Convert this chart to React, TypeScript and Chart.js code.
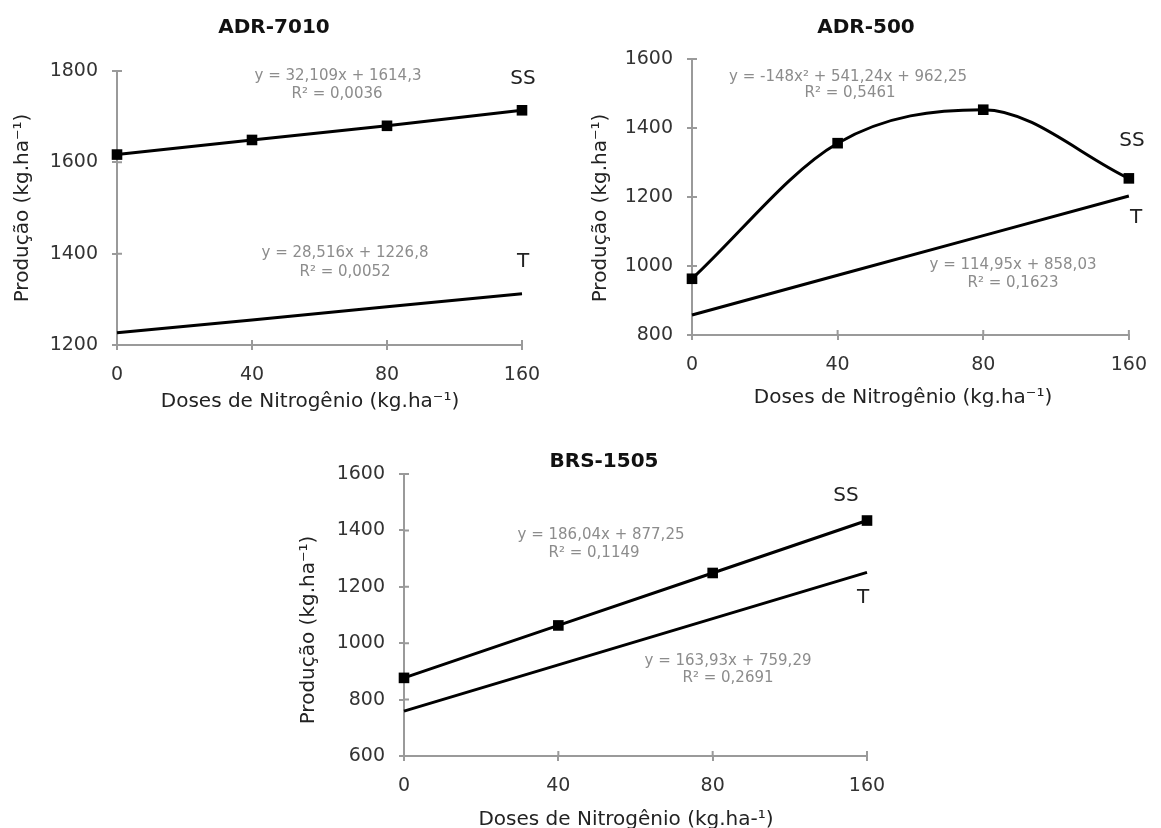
import React, { useEffect, useRef } from 'react';
import { Chart, registerables } from 'chart.js';

Chart.register(...registerables);

// ---------- data ----------
const doseLabels = ['0', '40', '80', '160'];

const adr7010Ticks = [1200, 1400, 1600, 1800];
const adr7010SS = [1617, 1649, 1680, 1714];
const adr7010T = [1227, 1255, 1284, 1312];

const adr500Ticks = [800, 1000, 1200, 1400, 1600];
const adr500SS = [963, 1356, 1453, 1254];
const adr500T = [858, 973, 1088, 1203];

const brs1505Ticks = [600, 800, 1000, 1200, 1400, 1600];
const brs1505SS = [877, 1063, 1249, 1435];
const brs1505T = [759, 923, 1087, 1251];

// ---------- styling ----------
const FAMILY = "'DejaVu Sans', sans-serif";
const AXIS_COLOR = '#9a9a9a';
const EQ_COLOR = '#8c8c8c';

type Box = { left: number; top: number; width: number; height: number };
type Area = { L: number; T: number; R: number; B: number };
type Txt = { text: string; x: number; y: number; size: number; color: string; bold?: boolean; rotate?: boolean };

type PanelProps = {
  box: Box;
  area: Area;
  yTicks: number[];
  ss: number[];
  t: number[];
  smooth: boolean;
  texts: Txt[];
};

function Panel({ box, area, yTicks, ss, t, smooth, texts }: PanelProps) {
  const ref = useRef<HTMLCanvasElement | null>(null);

  useEffect(() => {
    if (!ref.current) return;
    const overlay = {
      id: 'overlay',
      beforeDatasetsDraw(chart: any) {
        const ctx = chart.ctx;
        const xs = chart.scales.x;
        const ys = chart.scales.y;
        ctx.save();
        ctx.strokeStyle = AXIS_COLOR;
        ctx.lineWidth = 2;
        ctx.beginPath();
        xs.ticks.forEach((_: any, i: number) => {
          const px = xs.getPixelForTick(i);
          ctx.moveTo(px, ys.bottom);
          ctx.lineTo(px, ys.bottom - 5);
        });
        ys.ticks.forEach((_: any, i: number) => {
          const py = ys.getPixelForTick(i);
          ctx.moveTo(xs.left, py);
          ctx.lineTo(xs.left + 5, py);
        });
        ctx.stroke();
        ctx.restore();
      },
      afterDraw(chart: any) {
        const ctx = chart.ctx;
        ctx.save();
        texts.forEach((tx) => {
          ctx.font = `${tx.bold ? 'bold ' : ''}${tx.size}px ${FAMILY}`;
          ctx.fillStyle = tx.color;
          ctx.textAlign = 'center';
          ctx.textBaseline = 'middle';
          const x = tx.x - box.left;
          const y = tx.y - box.top;
          if (tx.rotate) {
            ctx.save();
            ctx.translate(x, y);
            ctx.rotate(-Math.PI / 2);
            ctx.fillText(tx.text, 0, 0);
            ctx.restore();
          } else {
            ctx.fillText(tx.text, x, y);
          }
        });
        ctx.restore();
      },
    };

    const chart = new Chart(ref.current, {
      type: 'line',
      data: {
        labels: doseLabels,
        datasets: [
          {
            label: 'SS',
            data: ss,
            borderColor: '#000',
            backgroundColor: '#000',
            borderWidth: 3,
            pointStyle: 'rect',
            pointRadius: 7.5,
            pointBackgroundColor: '#000',
            pointBorderColor: '#000',
            pointBorderWidth: 0,
            tension: smooth ? 0.4 : 0,
            cubicInterpolationMode: smooth ? 'monotone' : 'default',
            fill: false,
            clip: false as any,
          },
          {
            label: 'T',
            data: t,
            borderColor: '#000',
            backgroundColor: '#000',
            borderWidth: 3,
            pointRadius: 0,
            tension: 0,
            fill: false,
            clip: false as any,
          },
        ],
      },
      options: {
        responsive: false,
        animation: false,
        events: [],
        layout: {
          padding: {
            left: 0,
            top: area.T - box.top,
            right: box.left + box.width - area.R,
            bottom: 0,
          },
        },
        plugins: {
          legend: { display: false },
          tooltip: { enabled: false },
          title: { display: false },
        },
        scales: {
          x: {
            type: 'category',
            offset: false,
            afterFit: (s: any) => {
              s.height = box.top + box.height - area.B;
            },
            grid: { drawOnChartArea: false, drawTicks: true, tickLength: 5, color: AXIS_COLOR, lineWidth: 2 },
            border: { display: true, color: AXIS_COLOR, width: 2 },
            ticks: {
              color: '#333',
              font: { family: FAMILY, size: 19 },
              padding: 14,
              maxRotation: 0,
              autoSkip: false,
            },
          },
          y: {
            type: 'linear',
            min: yTicks[0],
            max: yTicks[yTicks.length - 1],
            afterFit: (s: any) => {
              s.width = area.L - box.left;
            },
            grid: { drawOnChartArea: false, drawTicks: true, tickLength: 5, color: AXIS_COLOR, lineWidth: 2 },
            border: { display: true, color: AXIS_COLOR, width: 2 },
            ticks: {
              stepSize: yTicks[1] - yTicks[0],
              color: '#333',
              font: { family: FAMILY, size: 19 },
              padding: 14,
              callback: (v: any) => String(v),
            },
          },
        },
      },
      plugins: [overlay],
    } as any);

    return () => chart.destroy();
  }, []);

  return (
    <canvas
      ref={ref}
      width={box.width}
      height={box.height}
      style={{ position: 'absolute', left: box.left, top: box.top, width: box.width, height: box.height }}
    />
  );
}

const TITLE = '#111';
const AXT = '#222';
const LBL = '#222';

export default function App() {
  const yTitle = 'Produção (kg.ha⁻¹)';
  return (
    <div style={{ position: 'absolute', left: 0, top: 0, width: 1161, height: 828, background: '#fff', overflow: 'hidden' }}>
      <Panel
        box={{ left: 0, top: 0, width: 575, height: 415 }}
        area={{ L: 117, T: 71, R: 522, B: 345 }}
        yTicks={adr7010Ticks}
        ss={adr7010SS}
        t={adr7010T}
        smooth={false}
        texts={[
          { text: 'ADR-7010', x: 274, y: 28, size: 20, color: TITLE, bold: true },
          { text: yTitle, x: 23, y: 208, size: 20, color: AXT, rotate: true },
          { text: 'Doses de Nitrogênio (kg.ha⁻¹)', x: 310, y: 402, size: 20, color: AXT },
          { text: 'y = 32,109x + 1614,3', x: 338, y: 76, size: 15, color: EQ_COLOR },
          { text: 'R² = 0,0036', x: 337, y: 94, size: 15, color: EQ_COLOR },
          { text: 'SS', x: 523, y: 79, size: 20, color: LBL },
          { text: 'y = 28,516x + 1226,8', x: 345, y: 253, size: 15, color: EQ_COLOR },
          { text: 'R² = 0,0052', x: 345, y: 272, size: 15, color: EQ_COLOR },
          { text: 'T', x: 523, y: 262, size: 20, color: LBL },
        ]}
      />
      <Panel
        box={{ left: 575, top: 0, width: 586, height: 415 }}
        area={{ L: 692, T: 59, R: 1138, B: 335 }}
        yTicks={adr500Ticks}
        ss={adr500SS}
        t={adr500T}
        smooth={true}
        texts={[
          { text: 'ADR-500', x: 866, y: 28, size: 20, color: TITLE, bold: true },
          { text: yTitle, x: 601, y: 208, size: 20, color: AXT, rotate: true },
          { text: 'Doses de Nitrogênio (kg.ha⁻¹)', x: 903, y: 398, size: 20, color: AXT },
          { text: 'y = -148x² + 541,24x + 962,25', x: 848, y: 77, size: 15, color: EQ_COLOR },
          { text: 'R² = 0,5461', x: 850, y: 93, size: 15, color: EQ_COLOR },
          { text: 'SS', x: 1132, y: 141, size: 20, color: LBL },
          { text: 'y = 114,95x + 858,03', x: 1013, y: 265, size: 15, color: EQ_COLOR },
          { text: 'R² = 0,1623', x: 1013, y: 283, size: 15, color: EQ_COLOR },
          { text: 'T', x: 1136, y: 218, size: 20, color: LBL },
        ]}
      />
      <Panel
        box={{ left: 280, top: 430, width: 620, height: 398 }}
        area={{ L: 404, T: 474, R: 867, B: 756 }}
        yTicks={brs1505Ticks}
        ss={brs1505SS}
        t={brs1505T}
        smooth={false}
        texts={[
          { text: 'BRS-1505', x: 604, y: 462, size: 20, color: TITLE, bold: true },
          { text: yTitle, x: 309, y: 630, size: 20, color: AXT, rotate: true },
          { text: 'Doses de Nitrogênio (kg.ha-¹)', x: 626, y: 820, size: 20, color: AXT },
          { text: 'y = 186,04x + 877,25', x: 601, y: 535, size: 15, color: EQ_COLOR },
          { text: 'R² = 0,1149', x: 594, y: 553, size: 15, color: EQ_COLOR },
          { text: 'SS', x: 846, y: 496, size: 20, color: LBL },
          { text: 'y = 163,93x + 759,29', x: 728, y: 661, size: 15, color: EQ_COLOR },
          { text: 'R² = 0,2691', x: 728, y: 678, size: 15, color: EQ_COLOR },
          { text: 'T', x: 863, y: 598, size: 20, color: LBL },
        ]}
      />
    </div>
  );
}
